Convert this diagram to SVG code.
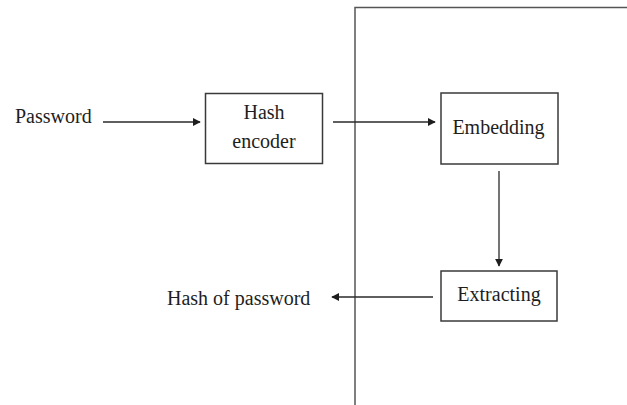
<svg xmlns="http://www.w3.org/2000/svg" width="627" height="405" viewBox="0 0 627 405">
  <style>
    .box { fill: #ffffff; stroke: #3a3a3a; stroke-width: 1.5; }
    .frame { fill: none; stroke: #555555; stroke-width: 1.5; }
    .wire { fill: none; stroke: #2a2a2a; stroke-width: 1.3; marker-end: url(#head); }
    text { font-family: "Liberation Serif", "Times New Roman", serif; font-size: 20px; fill: #1e1e1e; }
    .mid { text-anchor: middle; }
  </style>
  <defs>
    <marker id="head" viewBox="0 0 10 10" refX="9" refY="5" markerWidth="8" markerHeight="8" markerUnits="userSpaceOnUse" orient="auto">
      <path d="M0,0 L10,5 L0,10 z" fill="#1e1e1e"/>
    </marker>
  </defs>
  <rect width="627" height="405" fill="#ffffff"/>

  <!-- boundary of the embedding side -->
  <path class="frame" d="M355,405 V7.5 H627"/>

  <g id="password">
    <text x="15" y="123">Password</text>
  </g>

  <g id="hash-encoder">
    <rect class="box" x="205.5" y="93.5" width="117" height="70"/>
    <text class="mid" x="264" y="119">Hash</text>
    <text class="mid" x="264" y="148">encoder</text>
  </g>

  <g id="embedding">
    <rect class="box" x="441" y="93" width="117" height="71"/>
    <text class="mid" x="498.5" y="134">Embedding</text>
  </g>

  <g id="extracting">
    <rect class="box" x="441" y="271" width="116" height="50"/>
    <text class="mid" x="499" y="301">Extracting</text>
  </g>

  <g id="hash-of-password">
    <text x="167" y="305">Hash of password</text>
  </g>

  <g id="connectors">
    <line class="wire" x1="103" y1="122" x2="200" y2="122"/>
    <line class="wire" x1="333" y1="122" x2="435" y2="122"/>
    <line class="wire" x1="499" y1="171" x2="499" y2="266"/>
    <line class="wire" x1="433" y1="297" x2="332" y2="297"/>
  </g>
</svg>
